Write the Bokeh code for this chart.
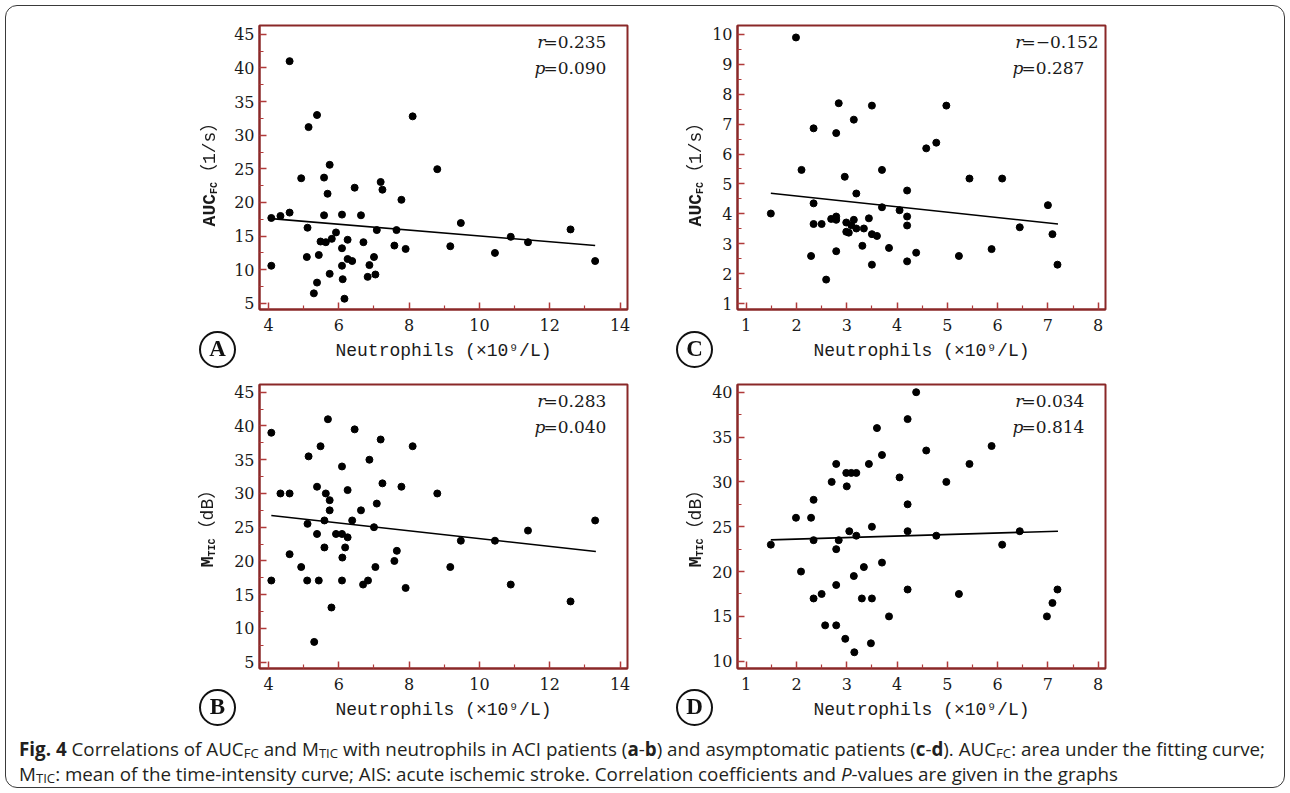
from bokeh.plotting import figure
from bokeh.models import Range1d, FixedTicker, Label, Div
from bokeh.layouts import column, row
from bokeh.embed import file_html
from bokeh.resources import INLINE

# ---------------- data ----------------
# Panel A: ACI patients, neutrophils vs AUC_FC
a_neut = [4.60, 5.38, 5.14, 8.10, 4.93, 5.74, 5.58, 5.68, 6.45, 7.19, 7.24, 8.80, 7.78, 4.08, 4.34,
          4.60, 5.58, 6.09, 6.63, 5.11, 7.08, 7.64, 9.47, 12.59, 5.92, 5.48, 5.63, 5.80, 6.25, 6.70,
          6.09, 7.58, 7.90, 9.17, 10.89, 11.38, 10.44, 5.09, 5.43, 6.25, 6.38, 7.00, 4.08, 6.09, 6.87,
          13.29, 5.74, 7.04, 6.82, 6.11, 5.38, 5.29, 6.16]
a_auc = [41.0, 33.0, 31.2, 32.8, 23.6, 25.6, 23.7, 21.3, 22.2, 23.05, 21.9, 24.95, 20.4, 17.7, 18.0,
         18.5, 18.1, 18.2, 18.1, 16.25, 15.9, 15.9, 16.95, 16.0, 15.55, 14.2, 14.1, 14.6, 14.46, 14.1,
         13.2, 13.6, 13.1, 13.5, 14.9, 14.1, 12.5, 11.9, 12.2, 11.6, 11.3, 11.9, 10.6, 10.6, 10.7,
         11.3, 9.4, 9.3, 8.95, 8.6, 8.1, 6.5, 5.7]
a_fit_x = [4.08, 13.29]
a_fit_y = [17.6, 13.6]

# Panel B: ACI patients, neutrophils vs M_TIC
b_neut = [5.69, 4.08, 6.45, 7.19, 5.48, 8.10, 5.14, 6.87, 6.09, 7.24, 5.38, 7.78, 6.25, 4.34, 4.60,
          5.63, 8.80, 5.74, 7.08, 5.74, 6.63, 13.29, 5.59, 6.38, 5.11, 7.00, 11.38, 5.38, 5.92, 6.09,
          6.25, 9.47, 10.44, 5.59, 6.18, 7.65, 4.60, 6.10, 7.58, 4.93, 7.04, 9.17, 4.08, 5.10, 5.43,
          6.09, 6.83, 6.69, 10.89, 7.90, 12.59, 5.79, 5.30]
b_mtic = [41.0, 39.0, 39.5, 38.0, 37.0, 37.0, 35.5, 35.0, 34.0, 31.5, 31.0, 31.0, 30.5, 30.0, 30.0,
          30.0, 30.0, 29.0, 28.5, 27.5, 27.5, 26.0, 26.0, 26.0, 25.5, 25.0, 24.5, 24.0, 24.0, 24.0,
          23.5, 23.0, 23.0, 22.0, 22.0, 21.5, 21.0, 20.5, 20.0, 19.1, 19.1, 19.1, 17.1, 17.1, 17.1,
          17.1, 17.1, 16.5, 16.5, 16.0, 14.0, 13.1, 8.0]
b_fit_x = [4.08, 13.31]
b_fit_y = [26.73, 21.39]

# Panel C: asymptomatic patients, neutrophils vs AUC_FC
c_neut = [1.99, 2.84, 3.50, 4.98, 3.14, 2.34, 2.79, 4.78, 4.58, 2.10, 3.70, 2.96, 5.44, 6.09, 4.20,
          3.19, 7.00, 2.34, 3.70, 4.05, 1.49, 2.79, 4.20, 2.69, 2.79, 3.14, 3.44, 2.99, 2.34, 2.50,
          3.09, 4.20, 3.19, 3.34, 2.99, 3.04, 3.50, 3.60, 6.44, 7.09, 3.31, 3.84, 2.79, 4.38, 5.88,
          2.29, 5.23, 4.20, 3.50, 7.19, 2.59]
c_auc = [9.9, 7.70, 7.62, 7.62, 7.15, 6.86, 6.70, 6.38, 6.19, 5.47, 5.47, 5.24, 5.18, 5.18, 4.78,
         4.68, 4.29, 4.35, 4.22, 4.12, 4.01, 3.91, 3.91, 3.83, 3.80, 3.80, 3.85, 3.71, 3.66, 3.66,
         3.62, 3.61, 3.51, 3.51, 3.40, 3.37, 3.32, 3.26, 3.55, 3.32, 2.93, 2.86, 2.75, 2.70, 2.82,
         2.59, 2.59, 2.41, 2.30, 2.30, 1.80]
c_fit_x = [1.49, 7.20]
c_fit_y = [4.69, 3.66]

# Panel D: asymptomatic patients, neutrophils vs M_TIC
d_neut = [4.38, 4.21, 3.60, 4.58, 5.88, 3.70, 2.79, 3.44, 5.44, 2.99, 3.09, 3.19, 4.05, 2.70, 4.98,
          3.00, 2.34, 4.21, 1.99, 2.29, 3.50, 3.05, 4.21, 6.44, 3.19, 4.78, 2.34, 2.84, 1.49, 6.09,
          2.79, 3.70, 3.34, 2.09, 3.14, 2.79, 4.21, 7.19, 2.50, 5.23, 2.34, 3.30, 3.50, 7.09, 2.57,
          2.79, 2.97, 3.15, 3.48, 3.84, 6.98]
d_mtic = [40.0, 37.0, 36.0, 33.5, 34.0, 33.0, 32.0, 32.0, 32.0, 31.0, 31.0, 31.0, 30.5, 30.0, 30.0,
          29.5, 28.0, 27.5, 26.0, 26.0, 25.0, 24.5, 24.5, 24.5, 24.0, 24.0, 23.5, 23.5, 23.0, 23.0,
          22.5, 21.0, 20.5, 20.0, 19.5, 18.5, 18.0, 18.0, 17.5, 17.5, 17.0, 17.0, 17.0, 16.5, 14.0,
          14.0, 12.5, 11.0, 12.0, 15.0, 15.0]
d_fit_x = [1.49, 7.20]
d_fit_y = [23.53, 24.50]

# axis ticks / labels
ab_xticks = [4, 6, 8, 10, 12, 14]
ab_xminor = [5, 7, 9, 11, 13]
cd_xticks = [1, 2, 3, 4, 5, 6, 7, 8]
cd_xminor = [1.5, 2.5, 3.5, 4.5, 5.5, 6.5, 7.5]
ab_yticks = [5, 10, 15, 20, 25, 30, 35, 40, 45]
ab_yminor = [7.5, 12.5, 17.5, 22.5, 27.5, 32.5, 37.5, 42.5]
c_yticks = [1, 2, 3, 4, 5, 6, 7, 8, 9, 10]
c_yminor = [1.5, 2.5, 3.5, 4.5, 5.5, 6.5, 7.5, 8.5, 9.5]
d_yticks = [10, 15, 20, 25, 30, 35, 40]
d_yminor = [12.5, 17.5, 22.5, 27.5, 32.5, 37.5]
x_title = "Neutrophils (×10⁹/L)"
stats = {"A": ("0.235", "0.090"), "B": ("0.283", "0.040"),
         "C": ("−0.152", "0.287"), "D": ("0.034", "0.814")}

FRAME = "#8a2828"
TICK = "#b03a3a"
FW, FH = 368, 284


def panel(xs, ys, fx, fy, xr, yr, xt, xmt, yt, ymt, letter, left, right, top, bottom):
    p = figure(frame_width=FW, frame_height=FH, min_border_left=left, min_border_right=right,
               min_border_top=top, min_border_bottom=bottom,
               x_range=Range1d(*xr), y_range=Range1d(*yr),
               output_backend="svg", toolbar_location=None)
    p.grid.visible = False
    p.outline_line_color = FRAME
    p.outline_line_width = 2
    p.outline_line_alpha = 1
    p.background_fill_color = "white"
    p.border_fill_color = "white"
    for ax, ticks, minor in ((p.xaxis[0], xt, xmt), (p.yaxis[0], yt, ymt)):
        ax.ticker = FixedTicker(ticks=ticks, minor_ticks=minor)
        ax.axis_line_color = FRAME
        ax.axis_line_width = 2
        ax.major_tick_in = 7
        ax.major_tick_out = 0
        ax.minor_tick_in = 4
        ax.minor_tick_out = 0
        ax.major_tick_line_color = TICK
        ax.minor_tick_line_color = TICK
        ax.major_tick_line_width = 1.5
        ax.minor_tick_line_width = 1.2
        ax.major_label_text_font = "DejaVu Serif"
        ax.major_label_text_font_size = "16px"
        ax.major_label_text_color = "#1a1a1a"
    p.xaxis.major_label_standoff = 9
    p.yaxis.major_label_standoff = 5
    p.xaxis.axis_label = x_title
    p.xaxis.axis_label_text_font = "Liberation Mono"
    p.xaxis.axis_label_text_font_size = "18px"
    p.xaxis.axis_label_text_font_style = "normal"
    p.xaxis.axis_label_text_color = "#1a1a1a"
    p.xaxis.axis_label_standoff = 7

    p.line(fx, fy, line_color="black", line_width=1.6)
    p.scatter(xs, ys, size=7, fill_color="black", line_color="black")

    rv, pv = stats[letter]
    for i, (sym, val) in enumerate((("r", rv), ("p", pv))):
        yy = FH - 16.7 - i * 25.8
        p.add_layout(Label(x=286, y=yy, x_units="screen", y_units="screen", text=sym,
                           text_align="right", text_baseline="middle", text_font="DejaVu Serif",
                           text_font_style="italic", text_font_size="17px", text_color="#1a1a1a"))
        p.add_layout(Label(x=284, y=yy, x_units="screen", y_units="screen", text="=" + val,
                           text_align="left", text_baseline="middle", text_font="DejaVu Serif",
                           text_font_size="17px", text_color="#1a1a1a"))
    return p


pA = panel(a_neut, a_auc, a_fit_x, a_fit_y, (3.744, 14.21), (4.1, 46.3), ab_xticks, ab_xminor,
           ab_yticks, ab_yminor, "A", 259, 33, 25, 61)
pC = panel(c_neut, c_auc, c_fit_x, c_fit_y, (0.827, 8.145), (0.8, 10.3), cd_xticks, cd_xminor,
           c_yticks, c_yminor, "C", 77, 185, 25, 61)
pB = panel(b_neut, b_mtic, b_fit_x, b_fit_y, (3.744, 14.21), (4.06, 46.15), ab_xticks, ab_xminor,
           ab_yticks, ab_yminor, "B", 259, 33, 14, 62)
pD = panel(d_neut, d_mtic, d_fit_x, d_fit_y, (0.827, 8.145), (9.19, 40.86), cd_xticks, cd_xminor,
           d_yticks, d_yminor, "D", 77, 185, 14, 62)

# ---- html overlay pieces: rotated y titles with subscripts, circled letters, outer frame ----
SUB = '<sub style="font-size:10px;vertical-align:-2px;line-height:0">'
auc_title = ('<span style="font-weight:bold">AUC' + SUB + 'FC</sub></span>'
             '<span>（1/s）</span>')
mtic_title = ('<span style="font-weight:bold">M' + SUB + 'TIC</sub></span>'
              '<span>（dB）</span>')


def ytitle(cx, cy, html):
    return ('<div style="position:fixed;left:%dpx;top:%dpx;transform:translate(-50%%,-50%%) '
            'rotate(-90deg);white-space:nowrap;line-height:1;font-family:\'Liberation Mono\','
            '\'Noto Sans CJK SC\',monospace;font-size:18px;color:#1a1a1a;z-index:20">%s</div>'
            % (cx, cy, html))


def circ(cx, cy, letter):
    return ('<div style="position:fixed;left:%dpx;top:%dpx;width:37px;height:37px;'
            'box-sizing:border-box;border:2.5px solid #111;border-radius:50%%;display:flex;'
            'align-items:center;justify-content:center;font-family:\'Liberation Serif\',serif;'
            'font-weight:bold;font-size:23px;color:#111;background:white;z-index:20">%s</div>'
            % (cx - 18, cy - 18, letter))


overlay = (ytitle(210, 170, auc_title) + ytitle(696, 170, auc_title)
           + ytitle(208, 524, mtic_title) + ytitle(696, 524, mtic_title)
           + circ(217, 349, "A") + circ(694, 349, "C") + circ(217, 707, "B") + circ(694, 707, "D")
           + '<div style="position:fixed;left:5px;top:5px;width:1280px;height:783px;'
             'box-sizing:border-box;border:1.5px solid #3a3a3a;border-radius:12px;'
             'pointer-events:none;z-index:30"></div>')

sub = '<sub style="font-size:0.7em;vertical-align:-0.12em;line-height:0">'
caption = (
    '<div style="font-family:\'Open Sans\',sans-serif;font-size:18.8px;line-height:25px;'
    'color:#231f20;white-space:nowrap;padding:2px 0 0 14px;">'
    '<b>Fig. 4</b> Correlations of AUC' + sub + 'FC</sub> and M' + sub + 'TIC</sub> with neutrophils '
    'in ACI patients (<b>a</b>-<b>b</b>) and asymptomatic patients (<b>c</b>-<b>d</b>). AUC'
    + sub + 'FC</sub>: area under the fitting curve;<br>'
    'M' + sub + 'TIC</sub>: mean of the time-intensity curve; AIS: acute ischemic stroke. '
    'Correlation coefficients and <i>P</i>-values are given in the graphs</div>'
)
cap = Div(text=caption + overlay, width=1290, height=63)

layout = column(row(pA, pC), row(pB, pD), cap, styles={"background": "white"})

open("out.html", "w").write(file_html(layout, INLINE))
